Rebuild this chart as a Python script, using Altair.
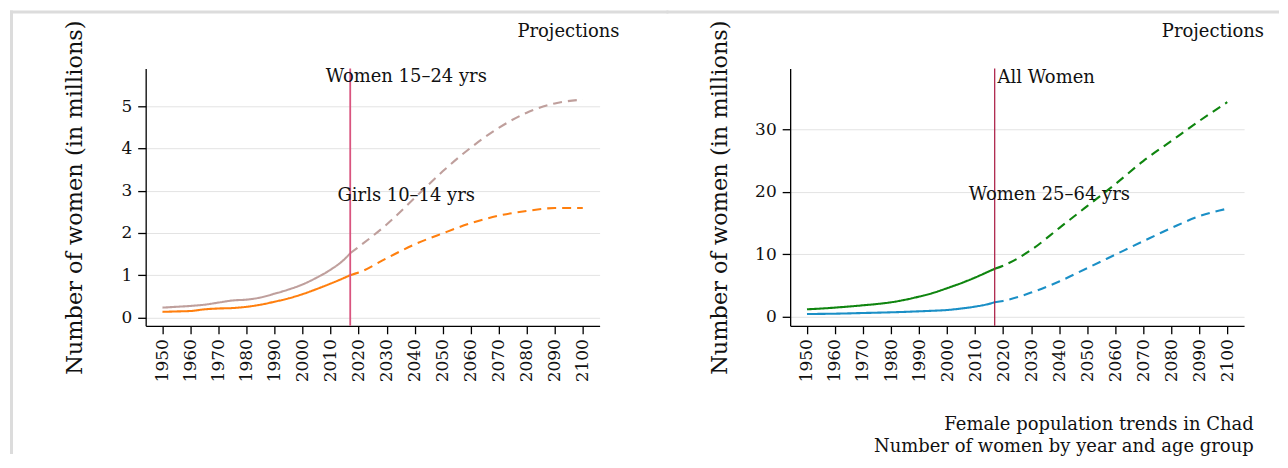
import altair as alt
import pandas as pd

FONT = "DejaVu Serif"

# ---------------- data ----------------
hist_years = [1950, 1955, 1960, 1965, 1970, 1975, 1980, 1985, 1990, 1995, 2000, 2005, 2010, 2015, 2017]
proj_years = [2017, 2020, 2030, 2040, 2050, 2060, 2070, 2080, 2090, 2100]

w1524_hist = [0.23, 0.25, 0.27, 0.30, 0.35, 0.40, 0.42, 0.47, 0.56, 0.66, 0.78, 0.94, 1.13, 1.38, 1.52]
w1524_proj = [1.52, 1.67, 2.20, 2.83, 3.46, 4.02, 4.49, 4.85, 5.07, 5.16]
g1014_hist = [0.13, 0.14, 0.15, 0.19, 0.21, 0.22, 0.25, 0.30, 0.37, 0.45, 0.55, 0.67, 0.80, 0.94, 1.00]
g1014_proj = [1.00, 1.06, 1.40, 1.73, 1.99, 2.23, 2.41, 2.52, 2.59, 2.59]

all_hist = [1.23, 1.35, 1.50, 1.68, 1.87, 2.08, 2.35, 2.75, 3.26, 3.85, 4.60, 5.40, 6.30, 7.30, 7.70]
all_proj = [7.70, 8.20, 10.7, 14.2, 17.7, 21.2, 24.9, 28.1, 31.3, 34.3]
w2564_hist = [0.48, 0.50, 0.53, 0.58, 0.64, 0.69, 0.75, 0.82, 0.91, 1.00, 1.12, 1.35, 1.66, 2.10, 2.35]
w2564_proj = [2.35, 2.57, 3.90, 5.67, 7.80, 9.95, 12.1, 14.2, 16.1, 17.3]

tick_years = [1950, 1960, 1970, 1980, 1990, 2000, 2010, 2020, 2030, 2040, 2050, 2060, 2070, 2080, 2090, 2100]
base_year = [2017]

left_names = ["Women 15–24 yrs", "Girls 10–14 yrs"]
left_colors = ["#bf9f9c", "#ff7f0e"]
right_names = ["All Women", "Women 25–64 yrs"]
right_colors = ["#0f850f", "#1a8fc6"]

left_label_text = ["Women 15–24 yrs", "Girls 10–14 yrs"]
left_label_year = [2037, 2037]
left_label_val = [5.69, 2.87]
left_label_align = ["center", "center"]

right_label_text = ["All Women", "Women 25–64 yrs"]
right_label_year = [2018, 2036.5]
right_label_val = [38.1, 19.5]
right_label_align = ["left", "center"]

left_y_ticks = [0, 1, 2, 3, 4, 5]
right_y_ticks = [0, 10, 20, 30]

W, H = 455, 258
FRAME_COLOR = "#dcdcdc"


def long_frame(names, hists, projs):
    rows = []
    for n, h, p in zip(names, hists, projs):
        for y, v in zip(hist_years, h):
            rows.append({"year": y, "value": v, "series": n, "period": "hist"})
        for y, v in zip(proj_years, p):
            rows.append({"year": y, "value": v, "series": n, "period": "proj"})
    return pd.DataFrame(rows)


def panel(names, colors, hists, projs, ydomain, yticks, ltext, lyear, lval, lalign,
          rule_color, rule_width, frame_x0, frame_x1, frame_left):
    df = long_frame(names, hists, projs)
    xscale = alt.Scale(domain=[1944, 2106], nice=False, zero=False)
    yscale = alt.Scale(domain=ydomain, nice=False, zero=False)
    xaxis = alt.Axis(values=tick_years, labelAngle=270, grid=False, title=None,
                     tickSize=8, labelPadding=5, format="d", labelFontSize=17,
                     labelFont=FONT, labelOverlap=False, labelFlush=False,
                     labelColor="#111", domainColor="#000", tickColor="#000",
                     domainWidth=1.3, tickWidth=1.3)
    yaxis = alt.Axis(values=yticks, grid=True, gridColor="#e3e3e3", tickSize=8,
                     labelPadding=6, labelFontSize=17, labelFont=FONT, labelColor="#111",
                     domainColor="#000", tickColor="#000", domainWidth=1.3, tickWidth=1.3,
                     title="Number of women (in millions)", titleFontSize=22.5,
                     titleFont=FONT, titleColor="#111",
                     titleFontWeight="normal", titleX=-71, titleY=H / 2,
                     titleBaseline="middle")

    X = alt.X("year:Q", scale=xscale, axis=xaxis)
    Y = alt.Y("value:Q", scale=yscale, axis=yaxis)

    lines = alt.Chart(df).mark_line(strokeWidth=2.1, interpolate="monotone").encode(
        x=X, y=Y,
        color=alt.Color("series:N", scale=alt.Scale(domain=names, range=colors), legend=None),
        strokeDash=alt.StrokeDash("period:N",
                                  scale=alt.Scale(domain=["hist", "proj"], range=[[1, 0], [9, 6]]),
                                  legend=None),
        detail="period:N",
    )

    rule = alt.Chart(pd.DataFrame({"year": base_year})).mark_rule(
        color=rule_color, strokeWidth=rule_width).encode(x=X)

    lab = pd.DataFrame({"text": ltext, "year": lyear, "value": lval, "align": lalign})
    layers = [lines, rule]
    for al in ["left", "center"]:
        sub = lab[lab["align"] == al]
        if len(sub):
            layers.append(alt.Chart(sub).mark_text(align=al, baseline="middle", font=FONT,
                                                   fontSize=18, color="#111").encode(
                x=X, y=Y, text="text:N"))

    # decorative light-grey frame around the figure
    one = pd.DataFrame({"f": [0]})
    layers.append(alt.Chart(one).mark_rule(color=FRAME_COLOR, strokeWidth=3,
                                           strokeCap="square").encode(
        x=alt.value(frame_x0), x2=alt.value(frame_x1), y=alt.value(-56.5)))
    if frame_left:
        layers.append(alt.Chart(one).mark_rule(color=FRAME_COLOR, strokeWidth=3,
                                               strokeCap="square").encode(
            x=alt.value(frame_x0), y=alt.value(-56.5), y2=alt.value(385)))

    return alt.layer(*layers).properties(
        width=W, height=H,
        title=alt.TitleParams("Projections", anchor="end", frame="group", fontSize=18,
                              font=FONT, fontWeight="normal", color="#111", dx=20,
                              offset=-31),
    )


left = panel(left_names, left_colors, [w1524_hist, g1014_hist], [w1524_proj, g1014_proj],
             [-0.2, 5.9], left_y_ticks, left_label_text, left_label_year, left_label_val,
             left_label_align, "#d9547f", 1.8, -134.5, 522.5, True)
right = panel(right_names, right_colors, [all_hist, w2564_hist], [all_proj, w2564_proj],
              [-1.4, 39.7], right_y_ticks, right_label_text, right_label_year, right_label_val,
              right_label_align, "#a8163f", 1.2, -122.5, 488.5, False)

chart = alt.hconcat(left, right, spacing=-4).resolve_scale(
    color="independent", strokeDash="independent"
).properties(
    background="white",
    padding={"left": 1, "top": 1, "right": 0, "bottom": 0},
    title=alt.TitleParams(["Female population trends in Chad",
                           "Number of women by year and age group"],
                          orient="bottom", anchor="end", fontSize=18, font=FONT,
                          fontWeight="normal", color="#111", lineHeight=22, offset=-39, dx=-26),
).configure_view(stroke=None)

chart.save("out.html", embed_options={"renderer": "svg", "actions": False})
